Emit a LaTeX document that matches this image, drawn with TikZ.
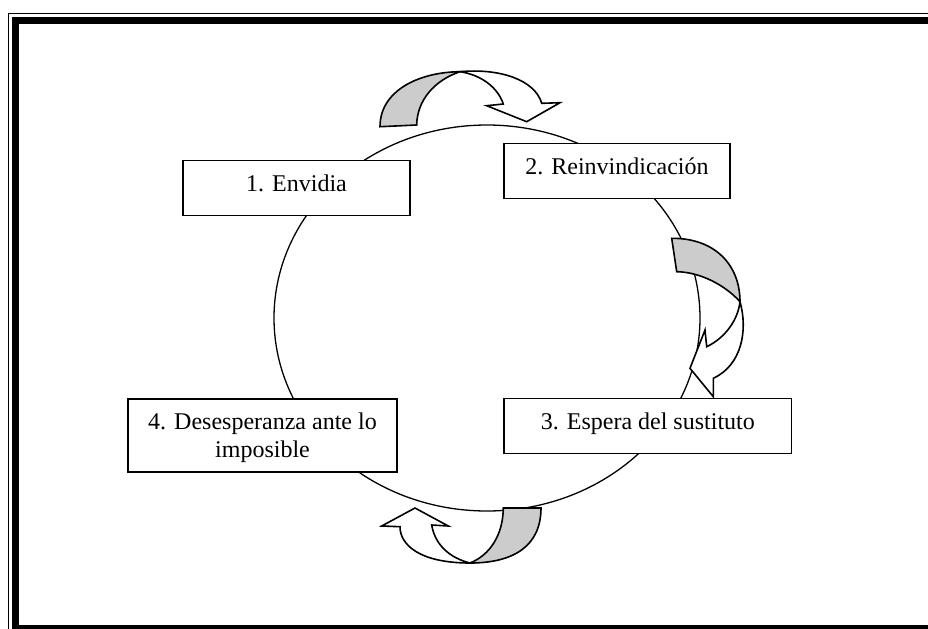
\documentclass[tikz,border=0pt]{standalone}
\usepackage{fontspec}
\setmainfont{Liberation Serif}
\definecolor{sombra}{gray}{0.8}

\tikzset{
  caja/.style={draw, line width=0.75pt, fill=white, inner sep=0pt},
  texto/.style={anchor=base, inner sep=0pt},
  gris/.style={draw, line width=0.8pt, fill=sombra},
  cinta/.style={draw, line width=0.8pt, fill=white},
}

\begin{document}
\begin{tikzpicture}[x=0.5pt, y=-0.5pt, font=\fontsize{12}{14}\selectfont]

  \useasboundingbox (0,0) rectangle (928,628);
  \clip (0,0) rectangle (928,628);
  \fill[white] (0,0) rectangle (928,628);

  % marco
  \draw[line width=0.7pt] (8.2,13.5) rectangle (1000,700);
  \draw[line width=3.75pt] (15.3,20.7) rectangle (990,628.75);

  % ciclo
  \draw[line width=0.65pt] (487,318) ellipse [x radius=213, y radius=193];

  % cajas
  \node[caja, minimum width=113.5pt, minimum height=27.5pt] (envidia) at (296.5,188.2) {};
  \node[caja, minimum width=113pt, minimum height=27.5pt] (reinv) at (617,170.8) {};
  \node[caja, minimum width=143.85pt, minimum height=27.5pt] (espera) at (647.85,425.8) {};
  \node[caja, minimum width=134.5pt, minimum height=36.5pt] (desesp) at (262.5,435.5) {};

  \node[texto] (envidia-t) at ([yshift=-15.75pt]envidia.north) {1. Envidia};
  \node[texto] (reinv-t) at ([yshift=-15.75pt]reinv.north) {2. Reinvindicación};
  \node[texto] (espera-t) at ([yshift=-15.75pt]espera.north) {3. Espera del sustituto};
  \node[texto] (desesp-t) at ([yshift=-15.5pt]desesp.north)
    {\begin{tabular}[t]{@{}c@{}}4. Desesperanza ante lo\\ imposible\end{tabular}};

  % flecha arriba
  \path[gris] (380,126.7) .. controls (380,90) and (420,72) .. (460,71.7)
    .. controls (435,80) and (417,100) .. (416.7,125) -- cycle;
  \path[cinta] (460,71.7) .. controls (500,68) and (535,80) .. (541.7,103.3)
    -- (560,102.7) -- (526.7,121.7) -- (486.7,105.7) -- (503.3,104)
    .. controls (498,88) and (482,75) .. cycle;

  % flecha derecha
  \path[gris] (671.7,238.3) .. controls (715,238) and (740,265) .. (740,301.7)
    .. controls (725,285) and (700,272) .. (676.7,271.7) -- cycle;
  \path[cinta] (740,301.7) .. controls (748,330) and (742,365) .. (713.3,378.3)
    -- (713.3,396.7) -- (690,368.3) -- (705,330) -- (706.7,346.7)
    .. controls (725,338) and (738,320) .. cycle;

  % flecha abajo
  \path[gris] (503.3,508) -- (541,508) .. controls (541,545) and (515,563) .. (470,563)
    .. controls (490,555) and (503,535) .. cycle;
  \path[cinta] (470,563) .. controls (420,563) and (400,545) .. (400,526.7)
    -- (381.7,526) -- (415,508) -- (448.3,526) -- (431.7,525)
    .. controls (435,545) and (450,558) .. cycle;

\end{tikzpicture}
\end{document}
